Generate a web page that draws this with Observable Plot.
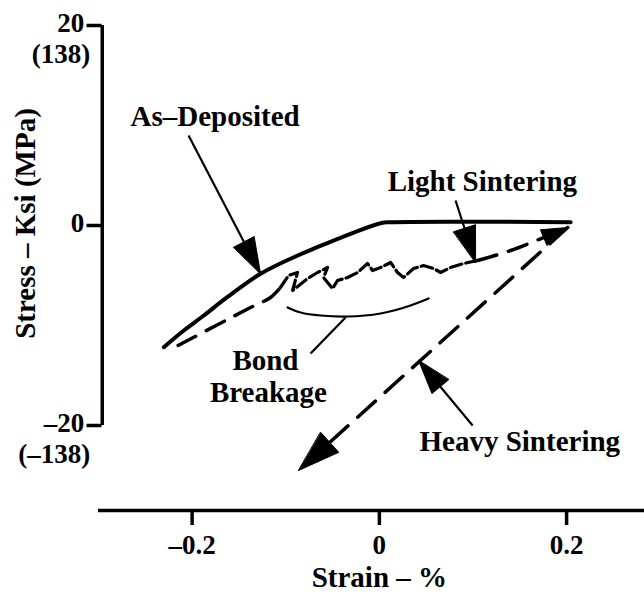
<!DOCTYPE html>
<html>
<head>
<meta charset="utf-8">
<script src="https://cdn.jsdelivr.net/npm/d3@7"></script>
<script src="https://cdn.jsdelivr.net/npm/@observablehq/plot@0.6"></script>
<style>
  html, body { margin: 0; padding: 0; background: #fff; }
  #chart svg { display: block; }
</style>
</head>
<body>
<div id="chart"></div>
<script>
// ---- data (strain %, stress ksi) ----
const asDepX = [-0.2302, -0.2089, -0.1875, -0.1625, -0.1269, -0.0913, -0.0663, -0.0308, 0.0013, 0.012, 0.2043];
const asDepY = [-12.17, -10.5, -9.0, -7.17, -4.83, -3.17, -2.17, -0.83, 0.23, 0.33, 0.33];

const lightStartX = [-0.215, -0.1376, -0.1163, -0.1057];
const lightStartY = [-12.0, -8.2, -7.2, -6.2];
const bondZigX = [-0.1057, -0.0970, -0.0874, -0.0927, -0.0767, -0.0660, -0.0553, -0.0596, -0.0500, -0.0447, -0.0340, -0.0233, -0.0126, -0.0073, 0.0013, 0.0120, 0.0194, 0.0259, 0.0365, 0.0472, 0.0579, 0.0654, 0.0761, 0.0899, 0.1049];
const bondZigY = [-6.2, -5.0, -4.7, -6.5, -5.3, -4.7, -4.2, -5.2, -6.3, -5.5, -5.2, -4.7, -3.8, -4.5, -4.2, -3.7, -4.7, -5.2, -4.3, -4.0, -4.3, -4.7, -4.2, -3.8, -3.5];
const lightEndX = [0.1049, 0.1403, 0.2011];
const lightEndY = [-3.5, -2.5, -0.2];

const heavyX = [0.2011, -0.0863];
const heavyY = [-0.2, -24.5];

const arcX = [-0.0981, -0.0842, -0.0628, -0.0340, 0.0013, 0.0333, 0.0526];
const arcY = [-8.2, -8.7, -9.0, -9.1, -8.8, -8.0, -7.3];

const xTicks = [-0.2, 0, 0.2];
const xTickLabels = ["\u20130.2", "0", "0.2"];
const yTicks = [20, 0, -20];
const yTickLabels = ["20", "0", "\u201320"];
const yTickSub = ["(138)", "", "(\u2013138)"];

// annotation labels
const labelText = ["As\u2013Deposited", "Light Sintering", "Bond", "Breakage", "Heavy Sintering"];
const labelX = [-0.2658, 0.1100, -0.1217, -0.1185, 0.1500];
const labelY = [10.0, 3.5, -14.4, -17.6, -22.5];
const labelAnchor = ["start", "middle", "middle", "middle", "middle"];

// leader lines (tail -> tip)
const leaderX1 = [-0.2038, 0.0814, 0.0996, -0.0361];
const leaderY1 = [9.0, 2.5, -20.0, -9.2];
const leaderX2 = [-0.1269, 0.1028, 0.0419, -0.0735];
const leaderY2 = [-4.83, -3.7, -13.5, -12.8];

// arrow heads: tip and a point behind it along the shaft
const headX = [-0.1269, 0.1028, 0.0419, -0.0863, 0.2011];
const headY = [-4.83, -3.7, -13.5, -24.5, -0.2];
const headFromX = [-0.2038, 0.0814, 0.0996, 0.2011, 0.16];
const headFromY = [9.0, 2.5, -20.0, -0.2, -1.8];
const headLen = [36, 36, 34, 42, 26];

// ---- layout ----
const W = 644, H = 594;
const mL = 98, mR = 3, mT = 25, mB = 84;
const xDomain = [-0.3, 0.28], yDomain = [-28.5, 20];
const kx = (W - mL - mR) / (xDomain[1] - xDomain[0]);
const ky = (H - mT - mB) / (yDomain[1] - yDomain[0]);
const yAxisX = -0.296;

const zip = (xs, ys) => xs.map((x, i) => ({x, y: ys[i]}));
const font = "'Liberation Serif', 'Times New Roman', Times, serif";

// filled triangular heads, built in pixel space from tip + shaft direction
const headPolys = [];
headX.forEach((x, i) => {
  const sx = (x - headFromX[i]) * kx, sy = (headY[i] - headFromY[i]) * ky;
  const n = Math.hypot(sx, sy), ux = sx / n, uy = sy / n;
  const L = headLen[i], w = L * 0.32;
  const bx = -ux * L, by = -uy * L;
  [[0, 0], [bx - uy * w, by + ux * w], [bx + uy * w, by - ux * w]].forEach(([px, py]) =>
    headPolys.push({id: i, x: x + px / kx, y: headY[i] + py / ky}));
});

const labels = labelText.map((t, i) => ({t, x: labelX[i], y: labelY[i], a: labelAnchor[i]}));
const leaders = leaderX1.map((x1, i) => ({x1, y1: leaderY1[i], x2: leaderX2[i], y2: leaderY2[i]}));
const yt = yTicks.map((v, i) => ({v, lab: yTickLabels[i], sub: yTickSub[i]}));
const xt = xTicks.map((v, i) => ({v, lab: xTickLabels[i]}));

const txt = {fontFamily: font, fontWeight: "bold", fontSize: 29, fill: "black", lineAnchor: "bottom"};
const tickTxt = {...txt, fontSize: 27};

const chart = Plot.plot({
  width: W, height: H,
  marginLeft: mL, marginRight: mR, marginTop: mT, marginBottom: mB,
  x: {domain: xDomain, axis: null},
  y: {domain: yDomain, axis: null},
  style: {background: "white", color: "black", overflow: "visible"},
  marks: [
    // axes
    Plot.ruleX([yAxisX], {y1: -20, y2: 20, strokeWidth: 3.5}),
    Plot.ruleY([yDomain[0]], {x1: -0.3, x2: 0.284, strokeWidth: 3.5}),
    Plot.axisY({ticks: yTicks, tickSize: 15, tickFormat: () => "", strokeWidth: 3.5, dx: 3.5, anchor: "left"}),
    Plot.axisX({ticks: xTicks, tickSize: 15, tickFormat: () => "", strokeWidth: 3.5, anchor: "bottom"}),
    Plot.text(yt, {...tickTxt, x: () => yAxisX, y: d => d.v, text: d => d.lab, textAnchor: "end", dx: -18, dy: -2, lineAnchor: "middle"}),
    Plot.text(yt.filter(d => d.sub), {...tickTxt, x: () => yAxisX, y: d => d.v, text: d => d.sub, textAnchor: "end", dx: -12, dy: 37}),
    Plot.text(xt, {...tickTxt, x: d => d.v, y: () => yDomain[0], text: d => d.lab, textAnchor: "middle", dy: 43}),
    Plot.text(["Strain \u2013 %"], {...txt, x: () => 0, y: () => yDomain[0], textAnchor: "middle", dy: 76}),
    Plot.text(["Stress \u2013 Ksi (MPa)"], {...txt, x: () => -0.3, y: () => 0, dx: -73, dy: -2, rotate: -90, lineAnchor: "middle", textAnchor: "middle"}),

    // curves
    Plot.line(zip(asDepX, asDepY), {x: "x", y: "y", curve: "catmull-rom", strokeWidth: 4}),
    Plot.line(zip(lightStartX, lightStartY), {x: "x", y: "y", curve: "catmull-rom", strokeWidth: 3.5, strokeDasharray: "20,12"}),
    Plot.line(zip(bondZigX, bondZigY), {x: "x", y: "y", strokeWidth: 3.2, strokeDasharray: "12,4", strokeLinejoin: "round"}),
    Plot.line(zip(lightEndX, lightEndY), {x: "x", y: "y", curve: "catmull-rom", strokeWidth: 3.5, strokeDasharray: "20,12"}),
    Plot.line(zip(heavyX, heavyY), {x: "x", y: "y", strokeWidth: 3.5, strokeDasharray: "24,13"}),
    Plot.line(zip(arcX, arcY), {x: "x", y: "y", curve: "natural", strokeWidth: 2.2}),

    // leaders and arrow heads
    Plot.link(leaders, {x1: "x1", y1: "y1", x2: "x2", y2: "y2", strokeWidth: 2.2}),
    Plot.line(headPolys, {x: "x", y: "y", z: "id", curve: "linear-closed", fill: "black", stroke: "black", strokeWidth: 1}),

    // annotations
    Plot.text(labels.filter(d => d.a === "start"), {...txt, x: "x", y: "y", text: "t", textAnchor: "start"}),
    Plot.text(labels.filter(d => d.a === "middle"), {...txt, x: "x", y: "y", text: "t", textAnchor: "middle"})
  ]
});
document.getElementById("chart").appendChild(chart);
</script>
</body>
</html>
